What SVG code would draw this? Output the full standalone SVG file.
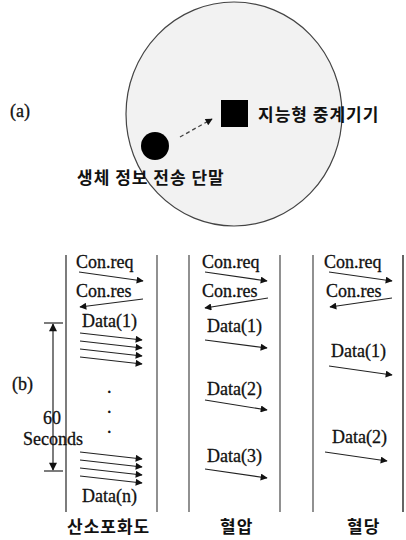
<svg xmlns="http://www.w3.org/2000/svg" width="406" height="540" viewBox="0 0 406 540">
<style>
.t{font-family:"Liberation Serif","Noto Sans CJK KR",serif;font-size:18px;fill:#111;stroke:#111;stroke-width:0.3;}
.k{font-family:"Noto Sans CJK KR",sans-serif;font-size:17px;font-weight:bold;fill:#111;letter-spacing:1px;}
.a{stroke:#222;stroke-width:1.1;fill:none;marker-end:url(#ah);}
.ll{stroke:#555;stroke-width:1.3;}
</style>
<defs>
<marker id="ah" viewBox="0 0 10 10" refX="9" refY="5" markerWidth="9" markerHeight="7" markerUnits="userSpaceOnUse" orient="auto">
<path d="M0,0 L10,5 L0,10 Z" fill="#111"/>
</marker>
<marker id="ah2" viewBox="0 0 10 10" refX="9" refY="5" markerWidth="10" markerHeight="8" markerUnits="userSpaceOnUse" orient="auto-start-reverse">
<path d="M0,0 L10,5 L0,10 Z" fill="#111"/>
</marker>
</defs>
<g id="partA">
<text class="t" x="10" y="117">(a)</text>
<g id="area"><ellipse cx="234" cy="114" rx="108" ry="112" fill="#f2f2f2" stroke="#444" stroke-width="1.2"/></g>
<g id="relay"><rect x="221" y="100" width="27" height="27" fill="#000"/><text class="k" x="258" y="121">지능형 중계기기</text></g>
<g id="terminal"><circle cx="155" cy="146" r="14" fill="#000"/><text class="k" x="77" y="184">생체 정보 전송 단말</text></g>
</g>
<g id="partB">
<text class="t" x="12" y="390">(b)</text>
<g id="lifelines">
<line x1="66" y1="255" x2="66" y2="512" stroke="#111" stroke-width="1.1"/>
<line class="ll" x1="157" y1="255" x2="157" y2="512"/>
<line class="ll" x1="189" y1="255" x2="189" y2="512"/>
<line class="ll" x1="280" y1="255" x2="280" y2="512"/>
<line class="ll" x1="313" y1="255" x2="313" y2="512"/>
<line x1="403" y1="255" x2="403" y2="512" stroke="#111" stroke-width="1.3"/>
</g>
<g id="col1">
<text class="t" x="76" y="268">Con.req</text>
<text class="t" x="76" y="297">Con.res</text>
<text class="t" x="82" y="327">Data(1)</text>
<text class="t" x="107" y="393">.</text>
<text class="t" x="107" y="413">.</text>
<text class="t" x="107" y="433">.</text>
<text class="t" x="82" y="502">Data(n)</text>
<text class="k" x="67" y="533">산소포화도</text>
</g>
<g id="col2">
<text class="t" x="202" y="268">Con.req</text>
<text class="t" x="202" y="297">Con.res</text>
<text class="t" x="207" y="332">Data(1)</text>
<text class="t" x="207" y="395">Data(2)</text>
<text class="t" x="207" y="462">Data(3)</text>
<text class="k" x="220" y="533">혈압</text>
</g>
<g id="col3">
<text class="t" x="324" y="268">Con.req</text>
<text class="t" x="326" y="297">Con.res</text>
<text class="t" x="331" y="357">Data(1)</text>
<text class="t" x="332" y="443">Data(2)</text>
<text class="k" x="347" y="533">혈당</text>
</g>
<g id="timer">
<line x1="44" y1="323" x2="63" y2="323" stroke="#111" stroke-width="1.1"/>
<line x1="44" y1="471" x2="63" y2="471" stroke="#111" stroke-width="1.1"/>
<line x1="53" y1="324" x2="53" y2="470" stroke="#111" stroke-width="1.1" marker-start="url(#ah2)" marker-end="url(#ah2)"/>
<text class="t" x="52" y="424" text-anchor="middle">60</text>
<text class="t" x="23" y="445">Seconds</text>
</g>
</g>
<g id="connectors">
<line x1="180" y1="137" x2="212" y2="119" stroke="#444" stroke-width="1.3" stroke-dasharray="4,3" marker-end="url(#ah)"/>
<line class="a" x1="79" y1="272" x2="143" y2="281"/>
<line class="a" x1="143" y1="299" x2="80" y2="307"/>
<line class="a" x1="80" y1="333" x2="142" y2="340"/>
<line class="a" x1="80" y1="341" x2="142" y2="348"/>
<line class="a" x1="80" y1="349" x2="142" y2="356"/>
<line class="a" x1="80" y1="357" x2="142" y2="364"/>
<line class="a" x1="80" y1="452" x2="142" y2="459"/>
<line class="a" x1="80" y1="460" x2="142" y2="467"/>
<line class="a" x1="80" y1="468" x2="142" y2="475"/>
<line class="a" x1="80" y1="476" x2="142" y2="483"/>
<line class="a" x1="205" y1="272" x2="267" y2="281"/>
<line class="a" x1="268" y1="298" x2="205" y2="308"/>
<line class="a" x1="205" y1="340" x2="267" y2="348"/>
<line class="a" x1="205" y1="400" x2="267" y2="410"/>
<line class="a" x1="205" y1="469" x2="267" y2="478"/>
<line class="a" x1="329" y1="272" x2="392" y2="281"/>
<line class="a" x1="392" y1="298" x2="330" y2="307"/>
<line class="a" x1="329" y1="366" x2="392" y2="375"/>
<line class="a" x1="325" y1="452" x2="387" y2="461"/>
</g>
</svg>
